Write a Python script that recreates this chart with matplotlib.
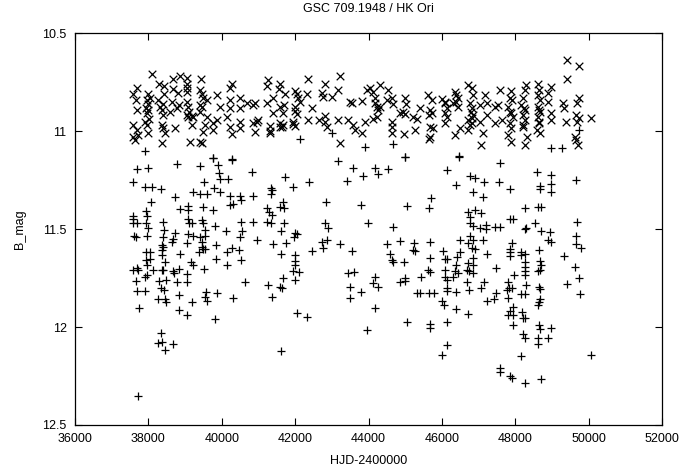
"""Light curve of GSC 709.1948 / HK Ori (B magnitudes)."""

import matplotlib

matplotlib.use("Agg")
import matplotlib.pyplot as plt

plt.rcParams["font.family"] = ["Liberation Sans", "DejaVu Sans"]

# upper branch, plotted with "x"
hjd_x = [
    38090, 38680, 38862, 39062, 39425, 38300, 38435, 38680, 39062, 39062, 40270, 40224, 37682, 37591,
    37999, 38045, 37954, 38435, 38817, 39407, 39452, 39498, 39879, 40224, 40496, 40678, 37663, 38272,
    38408, 38635, 38844, 39044, 39089, 39407, 39588, 37682, 37999, 38317, 38363, 38590, 38771, 39116,
    39180, 39452, 39952, 40224, 40496, 40860, 37954, 37909, 38408, 39044, 39225, 39588, 39861, 39770,
    40133, 40496, 40860, 37591, 37682, 37954, 38363, 38408, 38726, 39180, 39543, 39770, 40224, 40496,
    37591, 37727, 37636, 37999, 38453, 39498, 40270, 38363, 39134, 39407, 39452, 37990, 38010, 39050,
    39410, 37940, 39070,
    41249, 41222, 41585, 41558, 41721, 41994, 42039, 42357, 42811, 43219, 43174, 42720, 42765, 43011,
    42311, 42084, 42130, 41404, 41222, 41585, 41703, 41994, 41994, 42039, 42448, 41676, 41404, 40904,
    43492, 43537, 43810, 43946, 44037, 44127, 44173, 44173, 44218, 44264, 44218, 44127, 43900, 40995,
    40949, 40904, 41313, 41313, 41313, 41585, 41630, 41676, 41585, 41948, 41994, 41948, 42357, 42647,
    42811, 42856, 42811, 43156, 43428, 43583, 43628, 43810, 43219,
    44308, 44535, 44490, 44626, 44671, 44308, 44989, 45016, 44853, 44944, 44989, 44626, 44626, 44626,
    44962, 45216, 45307, 45398, 45261, 45625, 45715, 45670, 45652, 45715, 45670, 45761, 45670, 45652,
    45988, 46079, 46124, 46079, 46124, 46079, 46351, 46396, 46442, 46306, 46442, 46487, 46351, 46714,
    46805, 46850, 46760, 46805, 46850, 46714, 46760, 46714, 46805, 47032, 47214, 47168, 47032, 47214,
    47123, 47077, 47441, 47441, 47577, 47531, 47622, 46090, 46370, 46790, 46830,
    49419, 49728, 49419, 47894, 47848, 47912, 47803, 47875, 47939, 47848, 47894, 47803, 47875, 48302,
    48257, 48211, 48166, 48257, 48211, 48257, 48211, 48329, 48275, 48620, 48638, 48620, 48665, 48620,
    48665, 48620, 48638, 48602, 48665, 48983, 48892, 48892, 48983, 48983, 49301, 49328, 49392, 49728,
    49691, 49664, 49728, 49691, 50055, 49637, 49664, 49710, 48240, 48640, 47860, 48200, 48650,
]
mag_x = [
    10.710, 10.736, 10.720, 10.730, 10.736, 10.762, 10.770, 10.785, 10.757, 10.782, 10.757, 10.779, 10.782, 10.813,
    10.813, 10.830, 10.842, 10.813, 10.808, 10.790, 10.813, 10.833, 10.816, 10.842, 10.830, 10.859, 10.842, 10.842,
    10.864, 10.850, 10.867, 10.850, 10.876, 10.867, 10.842, 10.893, 10.864, 10.876, 10.893, 10.901, 10.884, 10.901,
    10.921, 10.876, 10.876, 10.884, 10.884, 10.867, 10.910, 10.952, 10.918, 10.918, 10.927, 10.927, 10.944, 10.961,
    10.927, 10.952, 10.961, 10.969, 10.995, 10.969, 10.969, 10.986, 10.986, 10.969, 10.969, 10.995, 10.978, 10.986,
    11.029, 11.020, 11.046, 11.012, 11.012, 11.003, 11.017, 11.063, 11.054, 11.054, 11.063, 10.890, 10.940, 10.800,
    10.900, 10.880, 10.930,
    10.740, 10.768, 10.762, 10.785, 10.813, 10.796, 10.813, 10.734, 10.762, 10.717, 10.790, 10.808, 10.825, 10.825,
    10.813, 10.833, 10.850, 10.830, 10.854, 10.876, 10.867, 10.876, 10.898, 10.915, 10.884, 10.910, 10.910, 10.859,
    10.850, 10.854, 10.847, 10.790, 10.782, 10.799, 10.833, 10.859, 10.876, 10.893, 10.927, 10.938, 10.955, 10.944,
    10.955, 11.006, 10.972, 10.999, 11.012, 10.961, 10.978, 10.969, 10.978, 10.955, 10.972, 10.966, 10.944, 10.944,
    10.952, 10.978, 10.921, 10.944, 10.944, 10.969, 10.995, 11.012, 11.063,
    10.765, 10.790, 10.842, 10.833, 10.864, 10.876, 10.833, 10.864, 10.910, 10.901, 10.915, 10.952, 10.978, 11.012,
    11.017, 10.927, 10.938, 10.884, 10.995, 10.816, 10.842, 10.893, 10.918, 10.910, 10.978, 10.983, 11.029, 11.041,
    10.836, 10.859, 10.884, 10.910, 10.927, 10.961, 10.799, 10.816, 10.833, 10.859, 10.876, 10.986, 11.020, 10.765,
    10.782, 10.816, 10.859, 10.884, 10.918, 10.944, 10.969, 10.995, 10.935, 10.867, 10.859, 10.816, 10.952, 10.918,
    11.012, 11.071, 10.876, 10.961, 10.790, 10.867, 10.944, 10.850, 10.850, 10.900, 10.960,
    10.638, 10.666, 10.736, 10.796, 10.833, 10.842, 10.876, 10.910, 10.927, 10.961, 10.986, 11.020, 11.054, 10.765,
    10.790, 10.833, 10.867, 10.893, 10.918, 10.944, 10.969, 11.029, 11.071, 10.762, 10.790, 10.816, 10.842, 10.876,
    10.901, 10.927, 10.952, 10.995, 11.012, 10.774, 10.808, 10.850, 10.910, 10.944, 10.859, 10.884, 10.955, 10.833,
    10.854, 10.918, 10.935, 10.955, 10.935, 11.029, 11.046, 11.071, 10.880, 10.890, 10.900, 10.980, 10.960,
]

# lower branch, plotted with "+"
hjd_p = [
    37909, 39770, 40270, 42130, 43011, 43900, 44653, 44989, 46469, 48983, 49274, 49728,
    39770, 40270, 37682, 37999, 38771, 39407, 39906, 39933, 39952, 40179, 40814, 37591, 37909, 38090,
    38335, 39516, 39225, 39788, 39407, 39606, 39952, 38726, 40224, 40496, 40514, 40860, 38063, 40224,
    40297, 38862, 39089, 39089, 39479, 39770, 37936, 37954, 37591, 37591, 37591, 37700, 37936, 37999,
    38408, 39089, 39116, 39180, 39452, 39479, 39815, 40514, 40860, 38426, 39543, 40115, 40542, 37609,
    37663, 37972, 38408, 38726, 38680, 38635, 39089, 39062, 39407, 39543, 39452, 39452, 39543, 39207,
    40496, 38363, 38390, 39843, 40270, 37936, 38045, 38363, 38363, 38862, 39389, 39498, 40152, 40478,
    37936, 38045, 38453, 39153, 39207, 39843, 40514, 40133, 37954, 37591, 37727, 37682, 38117, 38363,
    38408, 38662, 38699, 38844, 39044, 39516, 37909, 37972, 37663, 38299, 38481, 38771, 39044, 40633,
    37700, 37909, 38335, 38426, 38844, 39570, 39543, 39588, 39861, 40315, 38272, 38453, 38481, 39180,
    37754, 38844, 39062, 39815, 38335, 38272, 38363, 38680, 38453, 37726,
    43174, 43583, 44173, 44245, 43855, 43401, 41721, 42375, 41948, 41340, 41376, 41340, 42829, 41676,
    41585, 41703, 41222, 41285, 41358, 43792, 41222, 41340, 41703, 43973, 42811, 42883, 41612, 41994,
    41976, 42039, 40949, 41403, 41739, 42720, 42856, 43219, 42765, 42466, 43537, 41612, 41994, 41994,
    41994, 41948, 42102, 43446, 43610, 44173, 44127, 44245, 41676, 41994, 41249, 41585, 41630, 43492,
    43792, 43492, 41376, 44173, 42039, 42311, 43946, 41612,
    44989, 46469, 47577, 44535, 46124, 46760, 46896, 47141, 47559, 46378, 46832, 47105, 45688, 45034,
    45652, 46714, 46896, 47077, 46760, 46760, 46850, 47032, 47196, 47196, 47441, 47577, 44653, 46760,
    46487, 46850, 47105, 46714, 46805, 46896, 44853, 44508, 45234, 45670, 45261, 45216, 46033, 46487,
    47214, 44580, 44626, 44671, 44962, 45670, 46079, 46124, 46415, 46832, 46714, 46850, 46378, 45625,
    45670, 46079, 46351, 46442, 46687, 46742, 46850, 47468, 45416, 44989, 44989, 44853, 46079, 46124,
    46306, 46687, 47141, 47077, 46742, 46378, 46124, 46142, 45307, 45398, 45652, 45779, 47468, 47414,
    47232, 45988, 46051, 46378, 46714, 45034, 45670, 45670, 46124, 46124, 45988, 47573, 47573,
    48602, 48983, 48983, 48983, 48665, 48665, 49664, 47848, 48275, 48620, 48693, 47848, 47939, 48529,
    48275, 48302, 48693, 48938, 49691, 49664, 48892, 48983, 49664, 49782, 47912, 47848, 47848, 47848,
    48166, 48166, 48275, 48638, 49328, 48275, 48257, 48275, 48665, 48693, 48620, 48665, 49637, 49728,
    47966, 48275, 48302, 47803, 47821, 47912, 47785, 48638, 48665, 49419, 48148, 48257, 47803, 48665,
    48638, 48620, 49755, 47939, 47848, 47803, 47939, 48184, 48211, 48257, 47939, 48638, 48665, 48983,
    48211, 48275, 48620, 48892, 48620, 48148, 50055, 47848, 47911, 48275, 48692,
]
mag_p = [
    11.100, 11.136, 11.142, 11.040, 11.012, 11.080, 11.066, 11.131, 11.125, 11.088, 11.088, 10.995,
    11.139, 11.148, 11.193, 11.190, 11.170, 11.176, 11.173, 11.216, 11.244, 11.244, 11.207, 11.261, 11.284, 11.284,
    11.295, 11.261, 11.309, 11.289, 11.323, 11.323, 11.312, 11.335, 11.329, 11.329, 11.352, 11.329, 11.363, 11.377,
    11.374, 11.397, 11.380, 11.403, 11.386, 11.403, 11.408, 11.431, 11.431, 11.448, 11.470, 11.470, 11.470, 11.496,
    11.462, 11.448, 11.470, 11.470, 11.454, 11.470, 11.482, 11.465, 11.462, 11.505, 11.505, 11.510, 11.510, 11.533,
    11.539, 11.533, 11.539, 11.522, 11.550, 11.567, 11.527, 11.573, 11.539, 11.533, 11.567, 11.590, 11.601, 11.533,
    11.539, 11.581, 11.590, 11.581, 11.595, 11.615, 11.615, 11.607, 11.632, 11.629, 11.618, 11.601, 11.618, 11.607,
    11.658, 11.652, 11.666, 11.669, 11.683, 11.652, 11.658, 11.683, 11.683, 11.709, 11.709, 11.700, 11.709, 11.709,
    11.709, 11.714, 11.726, 11.703, 11.731, 11.703, 11.743, 11.737, 11.765, 11.765, 11.759, 11.771, 11.771, 11.768,
    11.816, 11.816, 11.799, 11.810, 11.836, 11.819, 11.845, 11.867, 11.827, 11.850, 11.856, 11.856, 11.870, 11.873,
    11.904, 11.913, 11.941, 11.958, 12.032, 12.083, 12.077, 12.088, 12.116, 12.350,
    11.153, 11.190, 11.187, 11.221, 11.227, 11.253, 11.233, 11.258, 11.284, 11.289, 11.301, 11.323, 11.360, 11.360,
    11.386, 11.391, 11.394, 11.411, 11.428, 11.377, 11.462, 11.470, 11.470, 11.470, 11.470, 11.493, 11.510, 11.522,
    11.539, 11.527, 11.556, 11.578, 11.573, 11.567, 11.556, 11.578, 11.598, 11.612, 11.612, 11.629, 11.632, 11.663,
    11.683, 11.714, 11.720, 11.726, 11.717, 11.743, 11.777, 11.794, 11.751, 11.760, 11.788, 11.794, 11.799, 11.794,
    11.819, 11.850, 11.845, 11.904, 11.930, 11.947, 12.015, 12.122,
    11.130, 11.130, 11.165, 11.193, 11.199, 11.227, 11.241, 11.258, 11.258, 11.275, 11.309, 11.335, 11.340, 11.380,
    11.391, 11.411, 11.403, 11.420, 11.437, 11.470, 11.482, 11.496, 11.479, 11.499, 11.487, 11.487, 11.487, 11.533,
    11.556, 11.556, 11.556, 11.573, 11.598, 11.601, 11.561, 11.578, 11.573, 11.567, 11.612, 11.607, 11.612, 11.615,
    11.629, 11.629, 11.658, 11.669, 11.669, 11.646, 11.652, 11.652, 11.641, 11.646, 11.675, 11.683, 11.683, 11.709,
    11.720, 11.709, 11.714, 11.726, 11.709, 11.714, 11.726, 11.700, 11.743, 11.748, 11.765, 11.771, 11.743, 11.760,
    11.743, 11.771, 11.771, 11.802, 11.810, 11.819, 11.799, 11.816, 11.827, 11.827, 11.827, 11.827, 11.827, 11.856,
    11.867, 11.867, 11.887, 11.907, 11.935, 11.975, 11.986, 12.006, 11.972, 12.094, 12.142, 12.210, 12.230,
    11.210, 11.224, 11.272, 11.309, 11.278, 11.295, 11.250, 11.295, 11.390, 11.386, 11.386, 11.448, 11.448, 11.470,
    11.499, 11.496, 11.510, 11.513, 11.462, 11.533, 11.556, 11.567, 11.578, 11.595, 11.573, 11.601, 11.618, 11.635,
    11.615, 11.632, 11.629, 11.607, 11.635, 11.669, 11.692, 11.714, 11.663, 11.683, 11.714, 11.709, 11.692, 11.748,
    11.734, 11.737, 11.785, 11.771, 11.799, 11.802, 11.810, 11.794, 11.805, 11.782, 11.833, 11.833, 11.853, 11.856,
    11.873, 11.890, 11.833, 11.896, 11.918, 11.941, 11.941, 11.924, 11.952, 11.955, 11.989, 11.989, 12.009, 12.006,
    12.037, 12.054, 12.054, 12.057, 12.088, 12.150, 12.142, 12.248, 12.258, 12.287, 12.265,
]

x_ticks = [36000, 38000, 40000, 42000, 44000, 46000, 48000, 50000, 52000]
y_ticks = [10.5, 11, 11.5, 12, 12.5]
y_tick_labels = ["10.5", "11", "11.5", "12", "12.5"]

fig = plt.figure(figsize=(7, 4.67), dpi=100)
ax = fig.add_axes([0.107, 0.09, 0.839, 0.839])

ax.scatter(hjd_x, mag_x, marker="x", s=30, c="black", linewidths=0.9)
ax.scatter(hjd_p, mag_p, marker="+", s=34, c="black", linewidths=0.9)

ax.set_xlim(36000, 52000)
ax.set_ylim(12.5, 10.5)
ax.set_xticks(x_ticks)
ax.set_yticks(y_ticks)
ax.set_yticklabels(y_tick_labels)
ax.tick_params(direction="in", top=True, right=True, length=5, width=0.8, labelsize=9, pad=6)
for spine in ax.spines.values():
    spine.set_linewidth(0.9)

ax.set_title("GSC 709.1948 / HK Ori", fontsize=9, pad=15)
ax.set_xlabel("HJD-2400000", fontsize=9, labelpad=7)
ax.set_ylabel("B_mag", fontsize=9, labelpad=12)

fig.savefig("out.png", dpi=100)
